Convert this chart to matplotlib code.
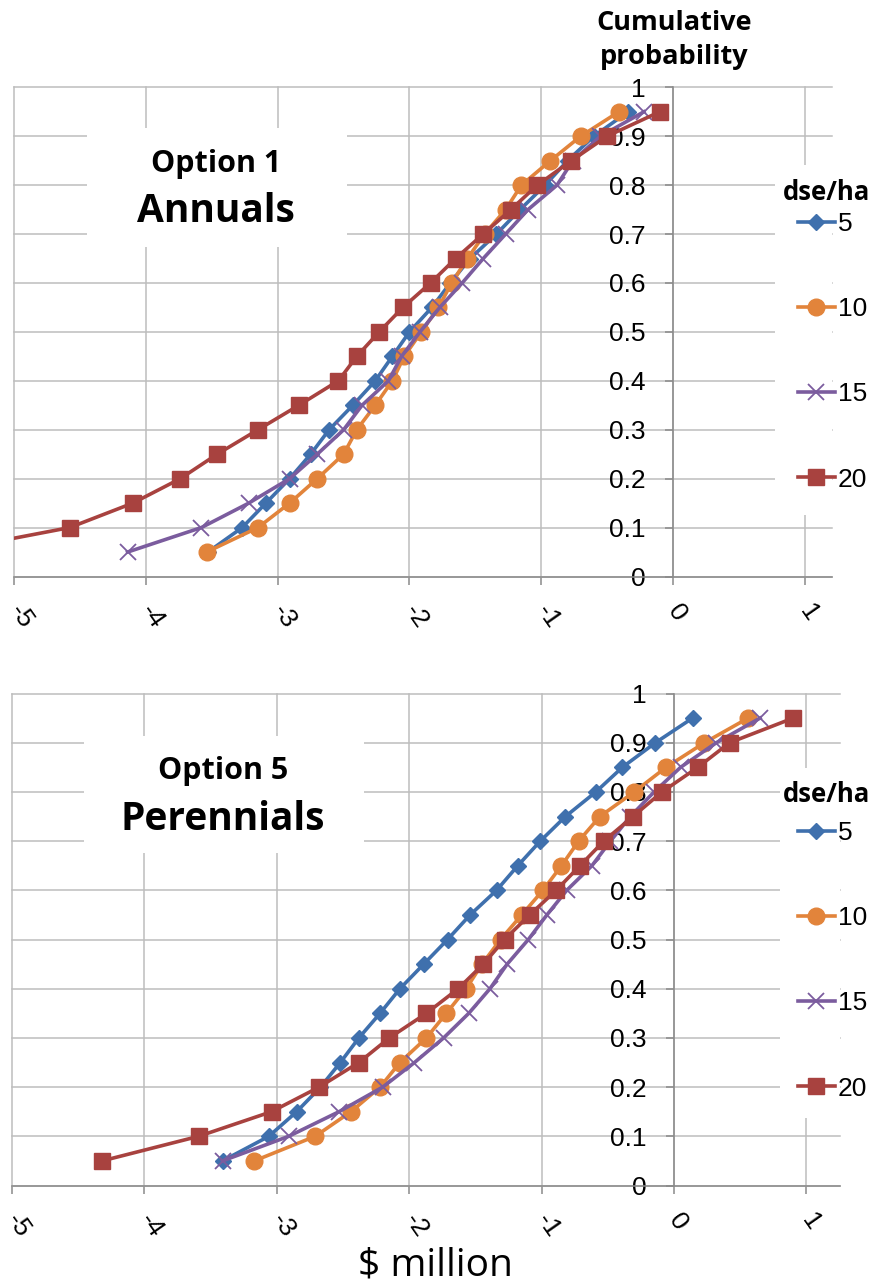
import matplotlib
matplotlib.use("Agg")
import matplotlib.pyplot as plt
from matplotlib.patches import Rectangle

# cumulative probability levels shared by every series
prob = [0.05, 0.10, 0.15, 0.20, 0.25, 0.30, 0.35, 0.40, 0.45, 0.50,
        0.55, 0.60, 0.65, 0.70, 0.75, 0.80, 0.85, 0.90, 0.95]

# Option 1 - Annuals ($ million) by stocking rate (dse/ha)
ann_5 = [-3.53, -3.27, -3.09, -2.91, -2.75, -2.61, -2.43, -2.26, -2.13, -2.00,
         -1.83, -1.69, -1.54, -1.34, -1.16, -0.97, -0.80, -0.60, -0.34]
ann_10 = [-3.54, -3.15, -2.91, -2.70, -2.50, -2.40, -2.26, -2.13, -2.04, -1.91,
          -1.78, -1.68, -1.56, -1.43, -1.27, -1.15, -0.93, -0.70, -0.41]
ann_15 = [-4.14, -3.58, -3.22, -2.91, -2.70, -2.50, -2.36, -2.16, -2.06, -1.92,
          -1.77, -1.60, -1.44, -1.27, -1.10, -0.88, -0.76, -0.55, -0.22]
ann_20 = [-5.55, -4.58, -4.10, -3.74, -3.46, -3.15, -2.84, -2.54, -2.40, -2.23,
          -2.05, -1.84, -1.65, -1.44, -1.23, -1.03, -0.77, -0.50, -0.10]

# Option 5 - Perennials
per_5 = [-3.41, -3.06, -2.85, -2.67, -2.52, -2.38, -2.22, -2.07, -1.89, -1.71,
         -1.54, -1.34, -1.18, -1.01, -0.82, -0.59, -0.39, -0.14, 0.14]
per_10 = [-3.17, -2.71, -2.44, -2.22, -2.07, -1.87, -1.72, -1.57, -1.45, -1.31,
          -1.15, -0.99, -0.85, -0.72, -0.56, -0.30, -0.06, 0.23, 0.56]
per_15 = [-3.41, -2.91, -2.53, -2.20, -1.96, -1.74, -1.55, -1.39, -1.26, -1.10,
          -0.96, -0.81, -0.62, -0.48, -0.33, -0.15, 0.05, 0.32, 0.65]
per_20 = [-4.32, -3.59, -3.04, -2.68, -2.38, -2.15, -1.87, -1.63, -1.44, -1.28,
          -1.09, -0.89, -0.71, -0.53, -0.31, -0.09, 0.18, 0.42, 0.90]

labels = ["5", "10", "15", "20"]
colors = ["#3F70AD", "#E2843B", "#7B5C9E", "#A8423F"]
markers = ["D", "o", "x", "s"]
msizes = [8.5, 12, 11, 12]

x_ticks = [-5, -4, -3, -2, -1, 0, 1]
x_labels = ["-5", "-4", "-3", "-2", "-1", "0", "1"]
y_ticks = [0, 0.1, 0.2, 0.3, 0.4, 0.5, 0.6, 0.7, 0.8, 0.9, 1.0]
y_labels = ["0", "0.1", "0.2", "0.3", "0.4", "0.5", "0.6", "0.7", "0.8", "0.9", "1"]

GRID = "#BDBDBD"
SPINE = "#8A8A8A"
NUM_FONT = "Liberation Sans"
HEAD_FONT = "Open Sans"

W, H = 886, 1288
fig = plt.figure(figsize=(W / 100, H / 100), dpi=100)
ax_top = fig.add_axes([14.3 / W, 1 - 576.5 / H, 818 / W, 489.2 / H])
ax_bot = fig.add_axes([12 / W, 1 - 1185.5 / H, 827.5 / W, 492 / H])


def px(x, y):
    return x / W, 1 - y / H


def setup(ax, xmax):
    # move the value axis onto x = 0 before the ticks are styled
    ax.spines["left"].set_position(("data", 0))
    for side in ("top", "right"):
        ax.spines[side].set_visible(False)
    for side in ("left", "bottom"):
        ax.spines[side].set_color(SPINE)
        ax.spines[side].set_linewidth(1.1)
    ax.set_xlim(-5, xmax)
    ax.set_ylim(0, 1)
    ax.set_xticks(x_ticks)
    ax.set_xticklabels(x_labels, rotation=-55, ha="left", va="center",
                       rotation_mode="anchor", fontsize=19, family=NUM_FONT)
    ax.set_yticks(y_ticks)
    ax.set_yticklabels(y_labels, fontsize=19, family=NUM_FONT)
    ax.tick_params(axis="x", direction="out", length=6, width=1.1, color=SPINE, pad=16)
    ax.tick_params(axis="y", direction="out", length=6, width=1.1, color=SPINE, pad=14)
    ax.grid(True, color=GRID, lw=1.1)
    ax.set_axisbelow(True)
    for gl in ax.get_xgridlines() + ax.get_ygridlines():
        gl.set_clip_on(False)


def draw(ax, series):
    for vals, lab, c, m, ms in zip(series, labels, colors, markers, msizes):
        kw = dict(color=c, lw=2.6, marker=m, ms=ms, label=lab, zorder=3)
        if m == "x":
            kw.update(mew=1.3)
        else:
            kw.update(mec=c, mfc=c)
        ax.plot(vals, prob, **kw)


def white_box(ax, x0, y0, x1, y1):
    # blank panel over the grid, in figure pixels
    ax.add_patch(Rectangle(px(x0, y1), (x1 - x0) / W, (y1 - y0) / H,
                           transform=fig.transFigure, fc="white", ec="none", zorder=2.5))


def caption(ax, box, line1, line2, xc, base1, base2):
    white_box(ax, *box)
    ax.text(*px(xc, base1), line1, transform=fig.transFigure, ha="center", va="baseline",
            fontsize=22, fontweight="bold", family=HEAD_FONT, zorder=4)
    ax.text(*px(xc, base2), line2, transform=fig.transFigure, ha="center", va="baseline",
            fontsize=28, fontweight="bold", family=HEAD_FONT, zorder=4)


def legend(ax, box, title_y, top_y):
    white_box(ax, *box)
    ax.text(*px(783, title_y), "dse/ha", transform=fig.transFigure, ha="left", va="center",
            fontsize=18.5, fontweight="bold", family=HEAD_FONT, zorder=4)
    leg = ax.legend(loc="upper left", bbox_to_anchor=px(798, top_y),
                    bbox_transform=fig.transFigure,
                    prop={"family": NUM_FONT, "size": 19},
                    frameon=False, borderpad=0, labelspacing=2.32, handlelength=1.4,
                    handletextpad=0.1, numpoints=1, borderaxespad=0)
    leg.set_zorder(5)


setup(ax_top, 1.21)
draw(ax_top, [ann_5, ann_10, ann_15, ann_20])
caption(ax_top, (87, 128, 347, 247), "Option 1", "Annuals", 216, 172, 222)
legend(ax_top, (775, 165, 900, 515), 192, 212)

setup(ax_bot, 1.25)
draw(ax_bot, [per_5, per_10, per_15, per_20])
caption(ax_bot, (84, 736, 364, 853), "Option 5", "Perennials", 223, 779, 830)
legend(ax_bot, (780, 768, 900, 1118), 795, 821)

fig.text(*px(674, 10), "Cumulative\nprobability", ha="center", va="top",
         fontsize=19.5, fontweight="bold", family=HEAD_FONT, linespacing=1.4)
fig.text(*px(435, 1276), "$ million", ha="center", va="baseline",
         fontsize=28, family=HEAD_FONT)

fig.savefig("out.png", dpi=100)
